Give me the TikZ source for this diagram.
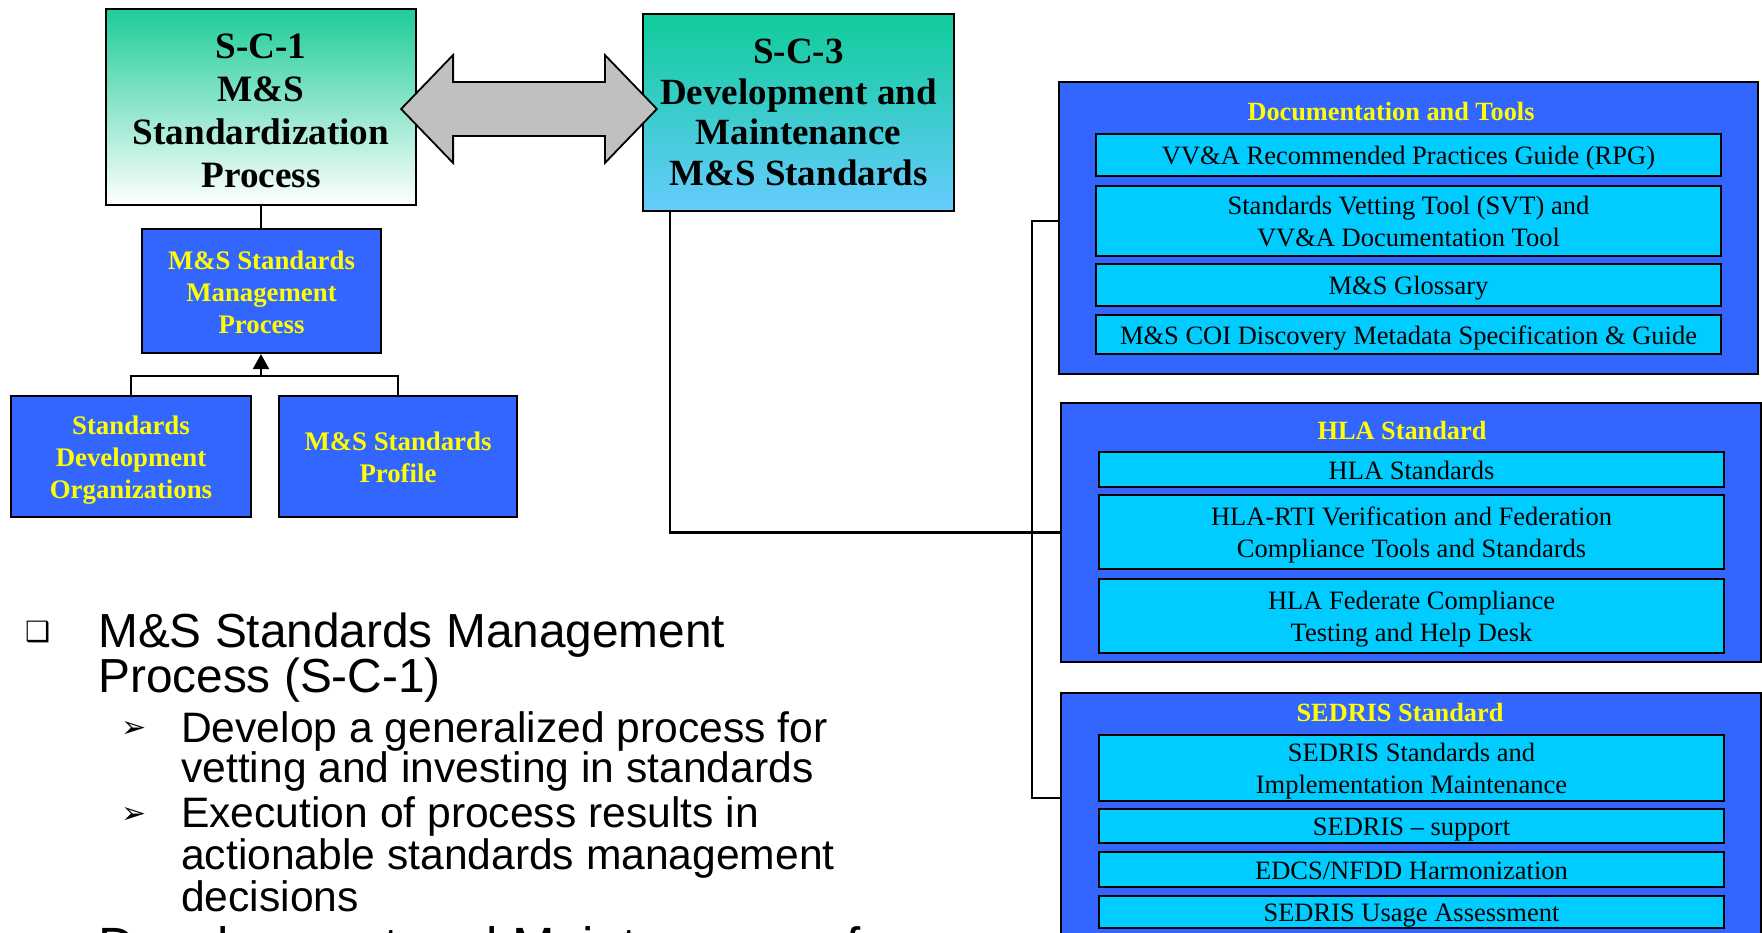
\documentclass[tikz,border=0pt]{standalone}
\usepackage{fontspec}
\setmainfont{Liberation Serif}
\newfontfamily\arialf{Liberation Sans}
\newfontfamily\symf{DejaVu Sans}
\usetikzlibrary{arrows.meta,calc}
\definecolor{bbox}{HTML}{3366FF}
\definecolor{cbox}{HTML}{00CCFF}
\definecolor{ytext}{HTML}{FFFF00}
\definecolor{garrow}{HTML}{C0C0C0}
\definecolor{gtop}{HTML}{1ECC99}
\definecolor{gthreetop}{HTML}{10CC99}
\definecolor{gthreebot}{HTML}{66CCFF}
% struts imitating line boxes (ascent / descent)
\newcommand\topst{\rule{0pt}{0.97em}}
\newcommand\botst{\rule[-0.22em]{0pt}{0.22em}}
\newcommand\bigtopst{\rule{0pt}{1.1em}}
\tikzset{
  bigtitle/.style={font=\fontsize{37.2}{43}\selectfont\bfseries, align=center, draw=black, line width=2.2pt, inner sep=0pt},
  bluebox/.style={draw=black, line width=2.2pt, fill=bbox, text=ytext, font=\fontsize{26.8}{32}\selectfont\bfseries, align=center, inner sep=0pt},
  panel/.style={draw=black, line width=2.2pt, fill=bbox, inner sep=0pt},
  ptitle/.style={text=ytext, font=\fontsize{26.3}{32}\selectfont\bfseries, anchor=base, inner sep=0pt},
  itembox/.style={draw=black, line width=2.2pt, fill=cbox, font=\fontsize{26.5}{32}\selectfont, align=center, inner sep=0pt, minimum width=625pt},
  conn/.style={draw=black, line width=2.2pt},
  mainb/.style={font=\arialf\fontsize{47.8}{45}\selectfont, anchor=base west, inner sep=0pt},
  subb/.style={font=\arialf\fontsize{42.6}{36}\selectfont, anchor=base west, inner sep=0pt},
  symb/.style={font=\symf\fontsize{30}{30}\selectfont, anchor=base west, inner sep=0pt},
}
\begin{document}
\begin{tikzpicture}[x=1pt,y=-1pt]
\clip (0,0) rectangle (1762,933);
\fill[white] (0,0) rectangle (1762,933);

% left tree
\node[bigtitle, top color=gtop, bottom color=white, minimum width=310pt, minimum height=196pt] (sc1) at (261,107) {\bigtopst S-C-1\\M\&S\\Standardization\\Process\botst};
\node[bigtitle, font=\fontsize{37}{40.5}\selectfont\bfseries, top color=gthreetop, bottom color=gthreebot, minimum width=311pt, minimum height=197pt] (sc3) at (798.5,112.5) {S-C-3\\Development and\\Maintenance\\M\&S Standards};
\node[bluebox, minimum width=239pt, minimum height=124pt] (mgmt) at (261.5,291) {\topst M\&S Standards\\Management\\Process\botst};
\node[bluebox, minimum width=240pt, minimum height=121pt] (sdo) at (131,456.5) {\topst Standards\\Development\\Organizations\botst};
\node[bluebox, minimum width=238pt, minimum height=121pt] (prof) at (398,456.5) {\topst M\&S Standards\\Profile\botst};

\draw[conn] (sc1.south) -- (sc1.south |- mgmt.north);
\coordinate (jn) at (261,376);
\draw[conn] (sdo.north) -- (sdo.north |- jn) -- (prof.north |- jn) -- (prof.north);
\draw[conn, -{Triangle[width=16pt,length=15pt]}] (jn) -- (jn |- mgmt.south);

% double block arrow
\coordinate (aL) at ($(sc1.east)+(-16,2)$);
\coordinate (aR) at ($(sc3.west)+(15,-3.5)$);
\draw[line width=1.8pt, fill=garrow] (aL) -- ($(aL)+(52,-54)$) -- ($(aL)+(52,-27)$) -- ($(aR)+(-52,-27)$) -- ($(aR)+(-52,-54)$) -- (aR) -- ($(aR)+(-52,54)$) -- ($(aR)+(-52,27)$) -- ($(aL)+(52,27)$) -- ($(aL)+(52,54)$) -- cycle;

% right panels
\node[panel, minimum width=699pt, minimum height=292pt] (doc) at (1408.5,228) {};
\node[ptitle] (doct) at (1391,121) {Documentation and Tools};
\node[itembox, minimum height=42pt] (d1) at (1408.5,155) {\topst VV\&A Recommended Practices Guide (RPG)\botst};
\node[itembox, minimum height=70pt] (d2) at (1408.5,221) {\topst Standards Vetting Tool (SVT) and\\VV\&A Documentation Tool\botst};
\node[itembox, minimum height=42pt] (d3) at (1408.5,285) {\topst M\&S Glossary\botst};
\node[itembox, minimum height=39pt] (d4) at (1408.5,334.5) {\topst M\&S COI Discovery Metadata Specification \& Guide\botst};

\node[panel, minimum width=700pt, minimum height=259pt] (hla) at (1411,532.5) {};
\node[ptitle] (hlat) at (1402,439) {HLA Standard};
\node[itembox, minimum height=35pt] (h1) at (1411.5,469.5) {\topst HLA Standards\botst};
\node[itembox, minimum height=74pt] (h2) at (1411.5,532) {\topst HLA-RTI Verification and Federation\\Compliance Tools and Standards\botst};
\node[itembox, minimum height=74pt] (h3) at (1411.5,616) {\topst HLA Federate Compliance\\Testing and Help Desk\botst};

\node[panel, minimum width=700pt, minimum height=267pt] (sed) at (1411,826.5) {};
\node[ptitle] (sedt) at (1400,721) {SEDRIS Standard};
\node[itembox, minimum height=66pt] (s1) at (1411.5,768) {\topst SEDRIS Standards and\\Implementation Maintenance\botst};
\node[itembox, minimum height=34pt] (s2) at (1411.5,826) {\topst SEDRIS – support\botst};
\node[itembox, minimum height=35pt] (s3) at (1411.5,869.5) {\topst EDCS/NFDD Harmonization\botst};
\node[itembox, minimum height=32pt] (s4) at (1411.5,912) {\topst SEDRIS Usage Assessment\botst};

% connectors to panels
\coordinate (b1) at (1032,221);
\coordinate (b2) at (1032,798);
\draw[conn] (doc.west |- b1) -- (b1) -- (b2) -- (sed.west |- b2);
\coordinate (sd) at ($(sc3.south west)+(28,0)$);
\draw[conn] (sd) -- (sd |- hla.west) -- (hla.west);

% bullet text
\node[symb, font=\symf\fontsize{28}{28}\selectfont] (bq1) at (25,641) {❑};
\node[mainb] (m1) at (98,647) {M\&S Standards Management};
\node[mainb] (m2) at (98,692) {Process (S-C-1)};
\node[symb] (ar1) at (121,737) {➢};
\node[subb] (t1) at (181,742) {Develop a generalized process for};
\node[subb] (t2) at (181,782) {vetting and investing in standards};
\node[symb] (ar2) at (121,823) {➢};
\node[subb] (t3) at (181,827) {Execution of process results in};
\node[subb] (t4) at (181,869) {actionable standards management};
\node[subb] (t5) at (181,911) {decisions};
\node[mainb, font=\arialf\fontsize{51}{45}\selectfont] (m3) at (98,963) {Development and Maintenance of};
\end{tikzpicture}
\end{document}
